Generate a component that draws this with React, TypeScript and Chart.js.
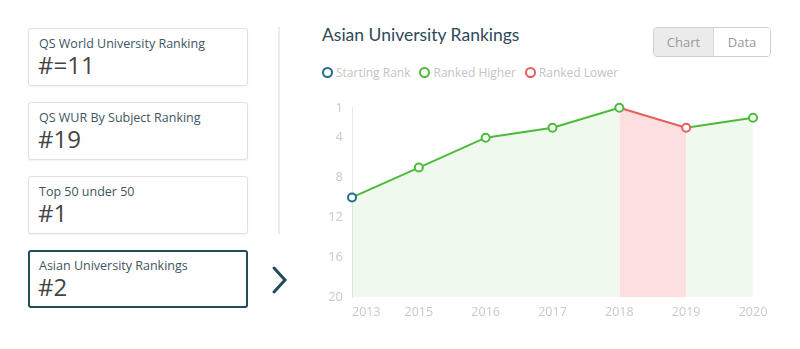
import React, { useEffect, useRef } from "react";
import { Chart, registerables } from "chart.js";

Chart.register(...registerables);

const years = ["2013", "2015", "2016", "2017", "2018", "2019", "2020"];
const ranks = [10, 7, 4, 3, 1, 3, 2];
const yTicks = [1, 4, 8, 12, 16, 20];
const cardTitles = ["QS World University Ranking", "QS WUR By Subject Ranking", "Top 50 under 50", "Asian University Rankings"];
const cardValues = ["#=11", "#19", "#1", "#2"];
const legendLabels = ["Starting Rank", "Ranked Higher", "Ranked Lower"];

const GREEN = "#4dbb3a";
const RED = "#e45f5f";
const BLUE = "#1e6d8c";
const GREEN_FILL = "rgba(90,190,70,0.09)";
const RED_FILL = "rgba(245,110,110,0.22)";
const legendColors = [BLUE, GREEN, RED];

function ChartCanvas() {
  const ref = useRef<HTMLCanvasElement | null>(null);
  useEffect(() => {
    if (!ref.current) return;
    const pointColors = ranks.map((v, i) => (i === 0 ? BLUE : v > ranks[i - 1] ? RED : GREEN));
    const firstLabelPlugin = {
      id: "firstLabelLeft",
      beforeDraw(chart: any) {
        const sx = chart.scales.x;
        const items = sx.getLabelItems(chart.chartArea);
        if (items && items[0]) items[0].options.textAlign = "left";
      },
    };
    const chart = new Chart(ref.current, {
      type: "line",
      data: {
        labels: years,
        datasets: [
          {
            data: ranks,
            borderColor: GREEN,
            borderWidth: 2,
            backgroundColor: GREEN_FILL,
            fill: { value: 20 } as any,
            tension: 0,
            clip: false as any,
            pointRadius: 4,
            pointBorderWidth: 2,
            pointBackgroundColor: "#ffffff",
            pointBorderColor: pointColors,
            segment: {
              borderColor: (ctx: any) => (ctx.p1.parsed.y > ctx.p0.parsed.y ? RED : GREEN),
              backgroundColor: (ctx: any) => (ctx.p1.parsed.y > ctx.p0.parsed.y ? RED_FILL : GREEN_FILL),
            },
          },
        ],
      },
      options: {
        animation: false,
        responsive: false,
        maintainAspectRatio: false,
        layout: { padding: { left: 0, right: 27, top: 7, bottom: 0 } },
        plugins: { legend: { display: false }, tooltip: { enabled: false } },
        scales: {
          x: {
            offset: false,
            grid: { display: false, drawTicks: false },
            border: { display: false },
            ticks: {
              color: "#c9c9c9",
              font: { family: "'Open Sans'", size: 12.5 },
              padding: 8,
              maxRotation: 0,
              autoSkip: false,
            },
            afterFit: (s: any) => {
              s.height = 33;
            },
          },
          y: {
            reverse: true,
            min: 1,
            max: 20,
            grid: { display: false, drawTicks: false },
            border: { display: true, color: "#e8e8e8", width: 1 },
            ticks: {
              color: "#c9c9c9",
              font: { family: "'Open Sans'", size: 13 },
              padding: 9,
            },
            afterBuildTicks: (s: any) => {
              s.ticks = yTicks.map((v) => ({ value: v }));
            },
            afterFit: (s: any) => {
              s.width = 52;
            },
          },
        },
      },
      plugins: [firstLabelPlugin],
    });
    return () => chart.destroy();
  }, []);
  return <canvas ref={ref} width={480} height={239} style={{ position: "absolute", left: 300, top: 91, width: 480, height: 239 }} />;
}

export default function App() {
  const font = "'Open Sans', sans-serif";
  return (
    <div style={{ position: "relative", width: 800, height: 349, margin: -8, background: "#fff", fontFamily: font, overflow: "hidden" }}>
      {cardTitles.map((t, i) => {
        const active = i === 3;
        return (
          <div
            key={t}
            style={{
              position: "absolute",
              left: 28,
              top: 28 + i * 74,
              width: 220,
              height: 58,
              boxSizing: "border-box",
              border: active ? "2px solid #1f4d5c" : "1px solid #e0e0e0",
              borderRadius: 3,
              boxShadow: active ? "none" : "0 1px 2px rgba(0,0,0,0.06)",
              background: "#fff",
            }}
          >
            <div style={{ position: "absolute", left: active ? 9 : 10, top: active ? 5 : 6, fontSize: 12.5, lineHeight: "17px", color: "#3e5561", whiteSpace: "nowrap" }}>{t}</div>
            <div style={{ position: "absolute", left: active ? 8 : 9, top: active ? 19 : 20, fontSize: 24, lineHeight: "32px", color: "#444", whiteSpace: "nowrap" }}>{cardValues[i]}</div>
          </div>
        );
      })}
      <div style={{ position: "absolute", left: 278, top: 27, width: 2, height: 207, background: "#ececec" }} />
      <svg style={{ position: "absolute", left: 268, top: 264 }} width={24} height={32}>
        <polyline points="6,4 17,16 6,28" fill="none" stroke="#1f4d5c" strokeWidth={3} strokeLinecap="round" strokeLinejoin="miter" />
      </svg>
      <div style={{ position: "absolute", left: 322, top: 24, fontFamily: "Lato, sans-serif", fontSize: 17.5, color: "#2d4a59", whiteSpace: "nowrap" }}>Asian University Rankings</div>
      <div style={{ position: "absolute", left: 322, top: 64, display: "flex", fontSize: 12, color: "#c4c4c4", whiteSpace: "nowrap" }}>
        {legendLabels.map((l, i) => (
          <div key={l} style={{ display: "flex", alignItems: "center", marginRight: 9 }}>
            <span style={{ display: "inline-block", width: 7, height: 7, borderRadius: "50%", border: `2px solid ${legendColors[i]}`, marginRight: 3 }} />
            <span>{l}</span>
          </div>
        ))}
      </div>
      <div style={{ position: "absolute", left: 653, top: 27, width: 118, height: 30, boxSizing: "border-box", border: "1px solid #cfcfcf", borderRadius: 4, display: "flex", overflow: "hidden", fontSize: 13, color: "#9a9a9a" }}>
        <div style={{ width: 59, background: "#ebebeb", borderRight: "1px solid #d8d8d8", display: "flex", alignItems: "center", justifyContent: "center" }}>Chart</div>
        <div style={{ flex: 1, background: "#fff", display: "flex", alignItems: "center", justifyContent: "center" }}>Data</div>
      </div>
      <ChartCanvas />
    </div>
  );
}
